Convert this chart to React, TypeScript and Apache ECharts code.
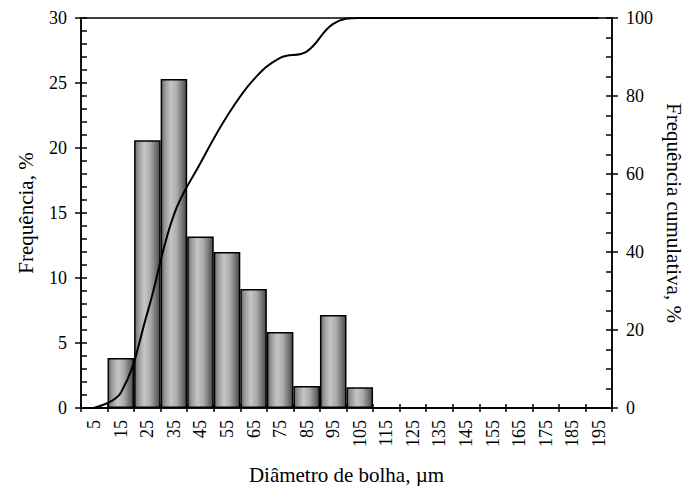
import { useEffect, useRef } from "react";
import * as echarts from "echarts";

const categories = ["5", "15", "25", "35", "45", "55", "65", "75", "85", "95", "105", "115", "125", "135", "145", "155", "165", "175", "185", "195"];
const frequency = [0, 3.85, 20.6, 25.3, 13.2, 12.0, 9.15, 5.85, 1.7, 7.15, 1.6, 0, 0, 0, 0, 0, 0, 0, 0, 0];
const cumulative = [0.1, 3.9, 24.4, 49.6, 62.8, 74.8, 84.2, 89.8, 91.4, 98.5, 100, 100, 100, 100, 100, 100, 100, 100, 100, 100];
const leftTicks = { min: 0, max: 30, interval: 5 };
const rightTicks = { min: 0, max: 100, interval: 20 };
const leftMinorTicks = { min: 0, max: 30, interval: 1 };
const rightMinorTicks = { min: 0, max: 100, interval: 5 };

const FONT = "'Liberation Serif', 'Times New Roman', serif";
const BLACK = "#000";

export default function App() {
  const ref = useRef<HTMLDivElement>(null);
  useEffect(() => {
    if (!ref.current) return;
    const chart = echarts.init(ref.current, undefined, { renderer: "svg" });
    const tickText = { fontFamily: FONT, fontSize: 18, color: BLACK };
    const titleText = { fontFamily: FONT, fontSize: 21, color: BLACK };
    const tickLine = { color: BLACK, width: 1.5 };
    const barColor = new echarts.graphic.LinearGradient(0, 0, 1, 0, [
      { offset: 0, color: "#6a6a6a" },
      { offset: 0.15, color: "#9a9a9a" },
      { offset: 0.38, color: "#c6c6c6" },
      { offset: 0.62, color: "#aaaaaa" },
      { offset: 0.88, color: "#686868" },
      { offset: 1, color: "#4a4a4a" },
    ]);
    const hiddenLine = { type: "line", symbol: "none", silent: true, lineStyle: { opacity: 0 }, z: 0 };
    chart.setOption({
      animation: false,
      backgroundColor: "#fff",
      grid: {
        left: 81, right: 79, top: 18, bottom: 78, outerBoundsMode: "none", containLabel: false,
        show: true, borderColor: BLACK, borderWidth: 1.5, backgroundColor: "transparent",
      },
      xAxis: [
        {
          type: "category",
          data: categories,
          position: "bottom",
          boundaryGap: true,
          axisLine: { show: true, lineStyle: { color: BLACK, width: 1.5 } },
          axisTick: { show: true, interval: 0, inside: false, length: 4, lineStyle: tickLine },
          axisLabel: { ...tickText, interval: 0, rotate: 90, margin: 12 },
          splitLine: { show: false },
          name: "Diâmetro de bolha, µm",
          nameLocation: "middle",
          nameGap: 56,
          nameTextStyle: titleText,
        },
        {
          type: "category",
          data: categories,
          position: "bottom",
          offset: 0,
          boundaryGap: true,
          axisLine: { show: false },
          axisTick: { show: true, interval: 0, inside: true, length: 4, lineStyle: tickLine },
          axisLabel: { show: false },
          splitLine: { show: false },
          z: 10,
        },
      ],
      yAxis: [
        {
          type: "value",
          position: "left",
          ...leftTicks,
          axisLine: { show: true, lineStyle: { color: BLACK, width: 1.5 } },
          axisTick: { show: true, inside: false, length: 6, lineStyle: tickLine },
          axisLabel: { ...tickText, margin: 14 },
          splitLine: { show: false },
          name: "Frequência, %",
          nameLocation: "middle",
          nameGap: 45,
          nameTextStyle: titleText,
        },
        {
          type: "value",
          position: "right",
          ...rightTicks,
          axisLine: { show: true, lineStyle: { color: BLACK, width: 1.5 } },
          axisTick: { show: true, inside: false, length: 6, lineStyle: tickLine },
          axisLabel: { ...tickText, margin: 14 },
          splitLine: { show: false },
          name: "Frequência cumulativa, %",
          nameLocation: "middle",
          nameGap: 45,
          nameRotate: -90,
          nameTextStyle: titleText,
        },
        {
          type: "value",
          position: "left",
          offset: 0,
          ...leftMinorTicks,
          axisLine: { show: false },
          axisTick: { show: true, inside: true, length: 6, lineStyle: tickLine },
          axisLabel: { show: false },
          splitLine: { show: false },
          z: 10,
        },
        {
          type: "value",
          position: "right",
          offset: 0,
          ...rightMinorTicks,
          axisLine: { show: false },
          axisTick: { show: true, inside: true, length: 6, lineStyle: tickLine },
          axisLabel: { show: false },
          splitLine: { show: false },
          z: 10,
        },
      ],
      series: [
        {
          type: "bar",
          xAxisIndex: 0,
          yAxisIndex: 0,
          data: frequency,
          barCategoryGap: "0%",
          barGap: "0%",
          itemStyle: { color: barColor, borderColor: BLACK, borderWidth: 1.5 },
        },
        {
          type: "line",
          xAxisIndex: 0,
          yAxisIndex: 1,
          data: cumulative,
          smooth: 0.4,
          symbol: "none",
          lineStyle: { color: BLACK, width: 2 },
          z: 5,
        },
        { ...hiddenLine, xAxisIndex: 1, yAxisIndex: 2, data: frequency },
        { ...hiddenLine, xAxisIndex: 1, yAxisIndex: 3, data: cumulative },
      ],
    });
    return () => chart.dispose();
  }, []);
  return <div ref={ref} style={{ position: "absolute", left: 0, top: 0, width: 691, height: 486 }} />;
}
